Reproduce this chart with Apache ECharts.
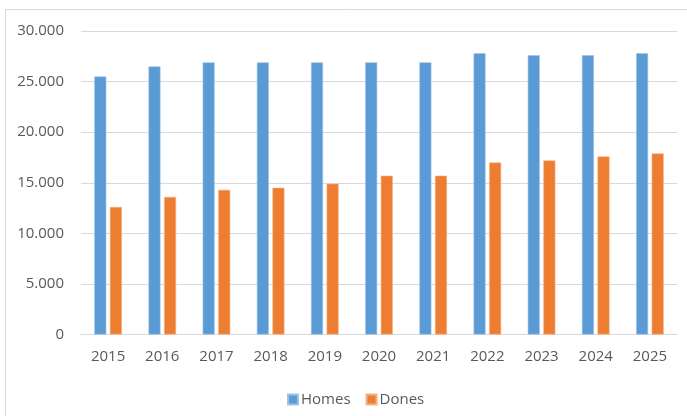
<!DOCTYPE html>
<html>
<head>
<meta charset="utf-8">
<script src="https://cdn.jsdelivr.net/npm/echarts@6/dist/echarts.min.js"></script>
<style>
html,body{margin:0;padding:0;background:#fff;}
#chart{width:687px;height:416px;}
</style>
</head>
<body>
<div id="chart"></div>
<script>
const categories = ['2015','2016','2017','2018','2019','2020','2021','2022','2023','2024','2025'];
const homes = [25500, 26500, 26900, 26900, 26900, 26900, 26900, 27800, 27600, 27600, 27800];
const dones = [12600, 13600, 14300, 14500, 14900, 15700, 15700, 17000, 17200, 17600, 17900];
const seriesNames = ['Homes', 'Dones'];

const FONT = '"Open Sans", sans-serif';
const TXT = '#595959';

function fmt(v) {
  if (v === 0) return '0';
  const s = String(Math.round(v));
  return s.replace(/\B(?=(\d{3})+(?!\d))/g, '.');
}

const chart = echarts.init(document.getElementById('chart'), null, {renderer: 'canvas'});
chart.setOption({
  animation: false,
  backgroundColor: '#fff',
  graphic: [{
    type: 'rect',
    shape: {x: 5.5, y: 9.5, width: 700, height: 430},
    style: {fill: 'none', stroke: '#d9d9d9', lineWidth: 1},
    silent: true
  }],
  grid: {left: 81, right: 10, top: 31, bottom: 81.5, containLabel: false},
  legend: {
    data: seriesNames,
    top: 387,
    left: 282,
    itemWidth: 10,
    itemHeight: 10,
    itemGap: 15,
    icon: 'rect',
    textStyle: {color: TXT, fontSize: 15, fontFamily: FONT, padding: [0, 0, 0, -2]}
  },
  xAxis: {
    type: 'category',
    data: categories,
    axisLine: {show: true, lineStyle: {color: '#d9d9d9', width: 1}},
    axisTick: {show: false},
    axisLabel: {color: TXT, fontSize: 15, fontFamily: FONT, margin: 15}
  },
  yAxis: {
    type: 'value',
    min: 0,
    max: 30000,
    interval: 5000,
    axisLine: {show: false},
    axisTick: {show: false},
    splitLine: {lineStyle: {color: '#d9d9d9', width: 1}},
    axisLabel: {color: TXT, fontSize: 15, fontFamily: FONT, margin: 17, formatter: fmt}
  },
  series: [
    {
      name: seriesNames[0],
      type: 'bar',
      data: homes,
      barWidth: 12,
      barGap: '30%',
      itemStyle: {color: '#5B9BD5', borderColor: '#9DC3E6', borderWidth: 0.6}
    },
    {
      name: seriesNames[1],
      type: 'bar',
      data: dones,
      barWidth: 12,
      itemStyle: {color: '#ED7D31', borderColor: '#F4B183', borderWidth: 0.6}
    }
  ]
});
</script>
</body>
</html>
